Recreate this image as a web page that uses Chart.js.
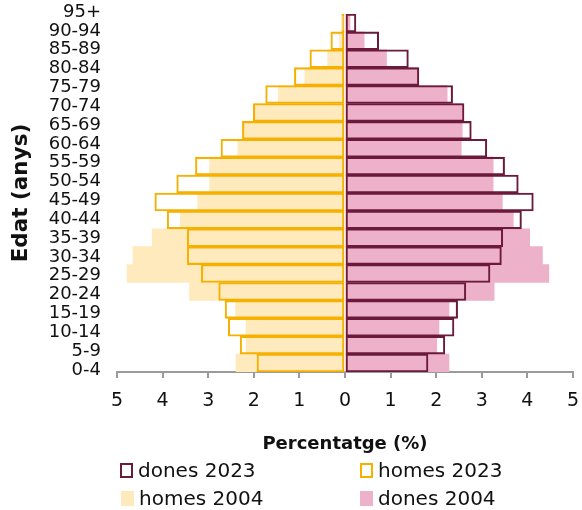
<!DOCTYPE html>
<html>
<head>
<meta charset="utf-8">
<script src="https://cdn.jsdelivr.net/npm/chart.js@4/dist/chart.umd.min.js"></script>
<style>
  html, body { margin: 0; padding: 0; background: #fff; }
  #wrap { position: relative; width: 582px; height: 510px; font-family: "DejaVu Sans", sans-serif; }
  #c { position: absolute; left: 0; top: 0; }
  .lg { position: absolute; font-size: 20px; color: #111; line-height: 20px; white-space: nowrap; }
  .lg .bx { position: absolute; left: 0; top: 3px; width: 13px; height: 15px; box-sizing: border-box; }
  .lg .tx { position: absolute; left: 18px; top: 0; }
</style>
</head>
<body>
<div id="wrap">
  <canvas id="c" width="582" height="510"></canvas>
</div>
<script>
// Age groups (bottom to top)
const ages = ['0-4','5-9','10-14','15-19','20-24','25-29','30-34','35-39','40-44','45-49','50-54','55-59','60-64','65-69','70-74','75-79','80-84','85-89','90-94','95+'];
// Percentages
const homes2023 = [1.93, 2.30, 2.56, 2.63, 2.77, 3.15, 3.46, 3.46, 3.90, 4.17, 3.69, 3.28, 2.72, 2.25, 2.01, 1.74, 1.11, 0.77, 0.31, 0.07];
const homes2004 = [2.39, 2.17, 2.17, 2.40, 3.41, 4.78, 4.65, 4.23, 3.61, 3.23, 2.97, 2.97, 2.35, 2.21, 1.97, 1.46, 0.88, 0.38, 0.12, 0.03];
const dones2023 = [1.82, 2.19, 2.39, 2.47, 2.65, 3.18, 3.43, 3.46, 3.87, 4.13, 3.80, 3.50, 3.11, 2.77, 2.61, 2.36, 1.62, 1.39, 0.74, 0.24];
const dones2004 = [2.28, 2.01, 2.06, 2.28, 3.27, 4.47, 4.33, 4.05, 3.69, 3.45, 3.25, 3.25, 2.55, 2.57, 2.58, 2.24, 1.60, 0.91, 0.42, 0.11];
// Series labels and axis ticks
const seriesNames = ['dones 2023', 'homes 2023', 'homes 2004', 'dones 2004'];
const xTicks = [-5, -4, -3, -2, -1, 0, 1, 2, 3, 4, 5];
const axisTitles = { x: 'Percentatge (%)', y: 'Edat (anys)' };

const C = {
  maroon: '#6b1a3b',
  orange: '#f5b000',
  yellow: '#feeabd',
  pink: '#edb1c9',
  axis: '#9a9a9a'
};
const FONT = '"DejaVu Sans", sans-serif';

const neg = a => a.map(v => -v);

const datasets = [
  { label: seriesNames[0], data: dones2023, backgroundColor: 'rgba(0,0,0,0)', borderColor: C.maroon, borderWidth: 1.4 },
  { label: seriesNames[1], data: neg(homes2023), backgroundColor: 'rgba(0,0,0,0)', borderColor: C.orange, borderWidth: 1.4 },
  { label: seriesNames[2], data: neg(homes2004), backgroundColor: C.yellow, borderWidth: 0 },
  { label: seriesNames[3], data: dones2004, backgroundColor: C.pink, borderWidth: 0 }
].map(d => Object.assign(d, { yAxisID: 'y', grouped: false, barPercentage: 1, categoryPercentage: 1, borderSkipped: false }));

new Chart(document.getElementById('c'), {
  type: 'bar',
  data: { labels: ages, datasets },
  options: {
    indexAxis: 'y',
    responsive: false,
    animation: false,
    devicePixelRatio: 1,
    layout: { padding: { top: 14, right: 9, bottom: 55, left: 0 } },
    plugins: { legend: { display: false }, tooltip: { enabled: false } },
    scales: {
      x: {
        type: 'linear',
        min: -5, max: 5,
        afterBuildTicks: s => { s.ticks = xTicks.map(v => ({ value: v })); },
        ticks: {
          callback: v => String(Math.abs(v)),
          color: '#111', font: { family: FONT, size: 19 }, padding: 12, maxRotation: 0
        },
        grid: { display: true, drawOnChartArea: false, drawTicks: true, tickLength: 6, color: C.axis, lineWidth: 2 },
        border: { display: true, color: C.axis, width: 2 },
        title: { display: true, text: axisTitles.x, color: '#111', font: { family: FONT, size: 18, weight: 'bold' }, padding: { top: 0, bottom: 0 } },
        afterFit: s => { s.height = 83; s.paddingLeft = 0; s.paddingRight = 0; }
      },
      y: {
        type: 'category',
        display: false,
        reverse: true,
        offset: true,
        afterFit: s => { s.paddingTop = 0; s.paddingBottom = 0; }
      },
      yl: {
        type: 'category',
        position: 'left',
        reverse: true,
        offset: false,
        ticks: { autoSkip: false, color: '#111', font: { family: FONT, size: 18, lineHeight: 1 }, padding: 16, labelOffset: -2 },
        grid: { display: false, drawTicks: false },
        border: { display: false },
        title: { display: true, text: axisTitles.y, color: '#111', font: { family: FONT, size: 21.5, weight: 'bold' }, padding: { top: 9, bottom: 0 } },
        afterFit: s => { s.width = 117; s.paddingTop = 0; s.paddingBottom = 0; }
      }
    }
  }
});

// HTML legend (2 x 2 grid)
const legendItems = [
  { name: seriesNames[0], x: 120, y: 460, fill: '#fff', border: C.maroon },
  { name: seriesNames[1], x: 360, y: 460, fill: '#fff', border: C.orange },
  { name: seriesNames[2], x: 121, y: 488, fill: C.yellow, border: null },
  { name: seriesNames[3], x: 360, y: 488, fill: C.pink, border: null }
];
const wrap = document.getElementById('wrap');
legendItems.forEach(it => {
  const d = document.createElement('div');
  d.className = 'lg';
  d.style.left = it.x + 'px';
  d.style.top = it.y + 'px';
  const b = document.createElement('span');
  b.className = 'bx';
  b.style.background = it.fill;
  if (it.border) b.style.border = '2px solid ' + it.border;
  const t = document.createElement('span');
  t.className = 'tx';
  t.textContent = it.name;
  d.appendChild(b); d.appendChild(t);
  wrap.appendChild(d);
});
</script>
</body>
</html>
